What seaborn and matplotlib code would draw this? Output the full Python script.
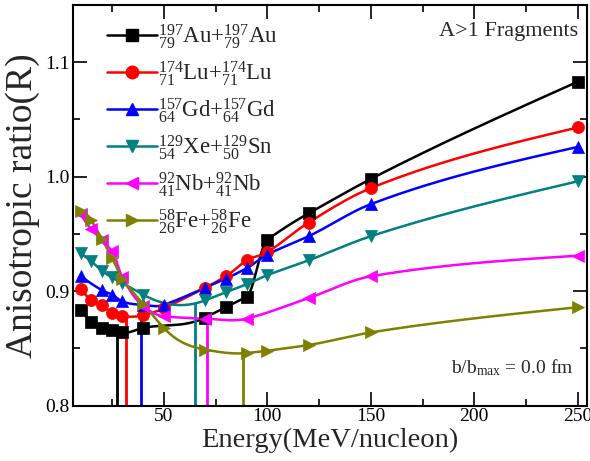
import numpy as np
import pandas as pd
import matplotlib
matplotlib.use("Agg")
import matplotlib.pyplot as plt
from matplotlib.lines import Line2D
from matplotlib.ticker import MultipleLocator
import seaborn as sns

# ---------------- data ----------------
energy_au = [10, 15, 20, 25, 30, 40, 70, 80, 90, 100, 120, 150, 250]
ratio_au = [0.884, 0.873, 0.868, 0.866, 0.864, 0.868, 0.877, 0.886, 0.895, 0.945, 0.968, 0.998, 1.083]

energy_lu = [10, 15, 20, 25, 30, 40, 50, 70, 80, 90, 100, 120, 150, 250]
ratio_lu = [0.902, 0.892, 0.888, 0.881, 0.878, 0.879, 0.885, 0.903, 0.913, 0.927, 0.934, 0.960, 0.990, 1.043]

energy_gd = [10, 20, 25, 30, 40, 50, 70, 80, 90, 100, 120, 150, 250]
ratio_gd = [0.913, 0.901, 0.897, 0.891, 0.888, 0.888, 0.903, 0.911, 0.920, 0.932, 0.948, 0.976, 1.026]

energy_xe = [10, 15, 20, 25, 30, 40, 70, 80, 90, 100, 120, 150, 250]
ratio_xe = [0.933, 0.926, 0.918, 0.912, 0.907, 0.897, 0.892, 0.899, 0.906, 0.914, 0.927, 0.948, 0.996]

energy_nb = [10, 15, 20, 25, 30, 40, 50, 70, 90, 120, 150, 250]
ratio_nb = [0.967, 0.954, 0.945, 0.935, 0.912, 0.887, 0.878, 0.876, 0.876, 0.894, 0.913, 0.931]

energy_fe = [10, 15, 20, 25, 30, 40, 50, 70, 90, 100, 120, 150, 250]
ratio_fe = [0.970, 0.962, 0.946, 0.929, 0.911, 0.889, 0.868, 0.849, 0.846, 0.848, 0.853, 0.864, 0.886]

balance_energy = [27.5, 31.6, 39.1, 65.3, 70.8, 88.5]

labels = [
    r"${}^{197}_{79}$Au+${}^{197}_{79}$Au",
    r"${}^{174}_{71}$Lu+${}^{174}_{71}$Lu",
    r"${}^{157}_{64}$Gd+${}^{157}_{64}$Gd",
    r"${}^{129}_{54}$Xe+${}^{129}_{50}$Sn",
    r"${}^{92}_{41}$Nb+${}^{92}_{41}$Nb",
    r"${}^{58}_{26}$Fe+${}^{58}_{26}$Fe",
]

# ---------------- styling ----------------
colors = ["#000000", "#ff0000", "#0000ff", "#008080", "#ff00ff", "#808000"]
markers = ["s", "o", "^", "v", "<", ">"]


def smooth(x, y, xs):
    """Akima-type piecewise cubic with tamed end behaviour."""
    x = np.asarray(x, float)
    y = np.asarray(y, float)
    n = len(x)
    h = np.diff(x)
    m = h * 0 + np.diff(y) / h
    mm = np.empty(n + 3)
    mm[2:n + 1] = m
    mm[1] = 2 * mm[2] - mm[3]
    mm[0] = 2 * mm[1] - mm[2]
    mm[n + 1] = 2 * mm[n] - mm[n - 1]
    mm[n + 2] = 2 * mm[n + 1] - mm[n]
    t = np.empty(n)
    for i in range(n):
        w1 = abs(mm[i + 3] - mm[i + 2])
        w2 = abs(mm[i + 1] - mm[i])
        if w1 + w2 < 1e-12:
            t[i] = 0.5 * (mm[i + 1] + mm[i + 2])
        else:
            t[i] = (w1 * mm[i + 1] + w2 * mm[i + 2]) / (w1 + w2)
    # penultimate tangent: weighted harmonic mean (no extrapolated slopes)
    i = n - 2
    if m[i - 1] * m[i] > 0:
        w1 = 2 * h[i] + h[i - 1]
        w2 = h[i] + 2 * h[i - 1]
        t[i] = (w1 + w2) / (w1 / m[i - 1] + w2 / m[i])
    else:
        t[i] = 0.0
    # natural-like end tangents
    t[0] = 0.5 * (3 * m[0] - t[1])
    t[-1] = 0.5 * (3 * m[-1] - t[-2])
    xs = np.asarray(xs, float)
    idx = np.clip(np.searchsorted(x, xs) - 1, 0, n - 2)
    hh = x[idx + 1] - x[idx]
    s = (xs - x[idx]) / hh
    h00 = 2 * s**3 - 3 * s**2 + 1
    h10 = s**3 - 2 * s**2 + s
    h01 = -2 * s**3 + 3 * s**2
    h11 = s**3 - s**2
    return h00 * y[idx] + h10 * hh * t[idx] + h01 * y[idx + 1] + h11 * hh * t[idx + 1]


sns.set_style("ticks")
plt.rcParams["font.family"] = ["Liberation Serif", "DejaVu Serif"]
plt.rcParams["mathtext.fontset"] = "custom"
plt.rcParams["mathtext.rm"] = "Liberation Serif"
plt.rcParams["mathtext.it"] = "Liberation Serif:italic"
plt.rcParams["mathtext.bf"] = "Liberation Serif:bold"

fig = plt.figure(figsize=(5.9, 4.61), dpi=100)
ax = fig.add_axes([0.1232, 0.12, 0.8722, 0.8692])

series = [
    (energy_au, ratio_au),
    (energy_lu, ratio_lu),
    (energy_gd, ratio_gd),
    (energy_xe, ratio_xe),
    (energy_nb, ratio_nb),
    (energy_fe, ratio_fe),
]

handles = []
for (ex, ry), col, mk, lab, eb in zip(series, colors, markers, labels, balance_energy):
    xs = np.linspace(ex[0], ex[-1], 800)
    ys = smooth(ex, ry, xs)
    dense = pd.DataFrame({"E": xs, "R": ys})
    sns.lineplot(data=dense, x="E", y="R", color=col, lw=1.8, ax=ax, sort=False)
    pts = pd.DataFrame({"E": ex, "R": ry})
    sns.scatterplot(data=pts, x="E", y="R", color=col, marker=mk, s=75,
                    edgecolor=col, linewidth=0.5, ax=ax, zorder=3)
    ytop = float(smooth(ex, ry, [eb])[0])
    ax.vlines(eb, 0.8, ytop, color=col, lw=2.0, zorder=2)
    handles.append(Line2D([], [], color=col, lw=1.8, marker=mk, markersize=9))

ax.set_xlim(6, 254.6)
ax.set_ylim(0.8, 1.15)
ax.xaxis.set_major_locator(MultipleLocator(50))
ax.xaxis.set_minor_locator(MultipleLocator(25))
ax.yaxis.set_major_locator(MultipleLocator(0.1))
ax.yaxis.set_minor_locator(MultipleLocator(0.05))
ax.set_xticks([50, 100, 150, 200, 250])
ax.set_yticks([0.8, 0.9, 1.0, 1.1])
ax.set_yticklabels(["0.8", "0.9", "1.0", "1.1"])
ax.tick_params(which="both", direction="in", top=True, right=True, width=1.2,
               labelsize=14, colors="black")
ax.tick_params(which="major", length=10, pad=2)
ax.tick_params(which="minor", length=5)
for sp in ax.spines.values():
    sp.set_linewidth(1.5)
    sp.set_color("black")

ax.set_xlabel("Energy(MeV/nucleon)", fontsize=20.5, labelpad=2)
ax.set_ylabel("Anisotropic ratio(R)", fontsize=27, labelpad=4)

ax.legend(handles, labels, loc="upper left", bbox_to_anchor=(0.066, 0.958),
          frameon=False, fontsize=16.5, handlelength=2.2, handletextpad=0.05,
          labelspacing=0.36, borderaxespad=0, borderpad=0)

ax.text(0.982, 0.958, "A>1 Fragments", transform=ax.transAxes, ha="right",
        va="top", fontsize=16)
ax.text(0.973, 0.082, r"b/b$_{\mathrm{max}}$ = 0.0 fm", transform=ax.transAxes,
        ha="right", va="baseline", fontsize=14)

fig.savefig("out.png", dpi=100)
